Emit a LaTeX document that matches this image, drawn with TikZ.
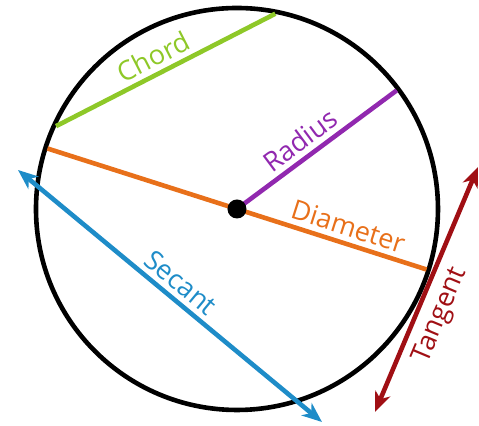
\documentclass[tikz,border=0pt]{standalone}
\usepackage{fontspec}
\setmainfont{Open Sans}
\usetikzlibrary{arrows.meta}

\definecolor{chordgreen}{RGB}{142,200,40}
\definecolor{radiuspurple}{RGB}{145,40,175}
\definecolor{diamorange}{RGB}{232,112,26}
\definecolor{secantblue}{RGB}{30,140,200}
\definecolor{tangentred}{RGB}{160,15,20}

\begin{document}
\begin{tikzpicture}[x=0.5pt, y=0.5pt, >={Stealth[length=10pt, width=8pt, inset=3pt]},
		part/.style={line width=2.3pt},
		lbl/.style={font=\fontsize{13.5}{15}\selectfont, sloped, inner sep=2.5pt},
		dot/.style={circle, fill=black, inner sep=0pt, minimum size=9.5pt}]
	\useasboundingbox (-237,-217) rectangle (242,209);
	
	% Kreis
	\coordinate (o) at (0,0);
	\draw[line width=2.3pt] (o) circle (201);
	
	% Punkte auf dem Kreis
	\coordinate (c1) at (155.4:199);
	\coordinate (c2) at (78.9:199);
	\coordinate (r1) at (36.6:199);
	\coordinate (d1) at (162.3:199);
	\coordinate (d2) at (-17.7:199);
	
	% Enden der Pfeile
	\coordinate (s1) at (-219,39);
	\coordinate (s2) at (85,-213);
	\coordinate (t1) at (138,-203);
	\coordinate (t2) at (241,42);
	
	% Strecken
	\draw[part, chordgreen] (c1) -- node[lbl, pos=0.48, above] {Chord} (c2);
	\draw[part, diamorange] (d1) -- node[lbl, pos=0.78, above] {Diameter} (d2);
	\draw[part, radiuspurple] (o) -- node[lbl, pos=0.46, above] {Radius} (r1);
	
	% Geraden
	\draw[part, secantblue, <->] (s1) -- node[lbl, pos=0.5, above] {Secant} (s2);
	\draw[part, tangentred, <->] (t1) -- node[lbl, pos=0.43, below, inner sep=4pt] {Tangent} (t2);
	
	% Mittelpunkt
	\node[dot] (m) at (o) {};
\end{tikzpicture}
\end{document}
